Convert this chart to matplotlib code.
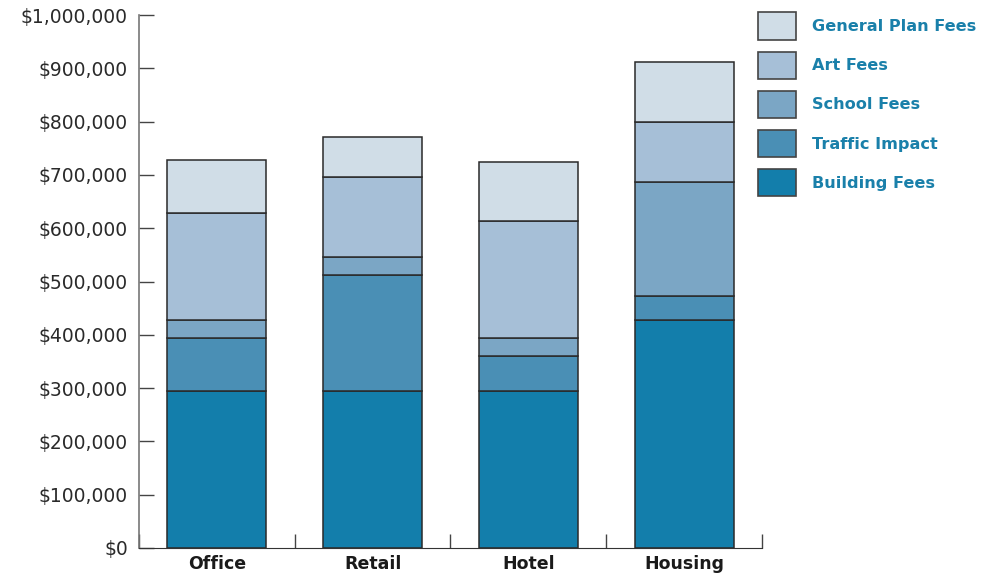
import matplotlib
matplotlib.use("Agg")
import matplotlib.pyplot as plt
from matplotlib.patches import Patch
from matplotlib.ticker import FuncFormatter
import numpy as np

categories = ["Office", "Retail", "Hotel", "Housing"]
series = ["Building Fees", "Traffic Impact", "School Fees", "Art Fees", "General Plan Fees"]
building = [295000, 295000, 295000, 428000]
traffic = [99000, 217000, 65000, 45000]
school = [34000, 34000, 34000, 214000]
art = [200000, 150000, 219000, 112000]
general = [100000, 75000, 111000, 113000]
colors = ["#137eab", "#4a8fb5", "#7ba6c5", "#a6bfd7", "#d0dde7"]

values = [building, traffic, school, art, general]

fig = plt.figure(figsize=(9.91, 5.76), dpi=100)
ax = fig.add_axes([139 / 991, 28 / 576, 623 / 991, 533 / 576])

x = np.arange(len(categories))
bottom = np.zeros(len(categories))
for vals, col in zip(values, colors):
    ax.bar(x, vals, width=0.635, bottom=bottom, color=col,
           edgecolor="#2a2a2a", linewidth=1.1)
    bottom += np.array(vals)

ax.set_xlim(-0.5, 3.5)
ax.set_ylim(0, 1000000)
ax.set_yticks(np.arange(0, 1000001, 100000))
ax.yaxis.set_major_formatter(FuncFormatter(lambda v, p: "${:,.0f}".format(v)))
ax.tick_params(axis="y", direction="in", length=11, width=1, color="#444444",
               labelsize=13.5, labelcolor="#2a2a2a", pad=8)

ax.set_xticks(x)
ax.set_xticklabels(categories, fontweight="bold", fontsize=12.5, color="#1a1a1a")
ax.set_xticks(np.arange(-0.5, 3.6, 1), minor=True)
ax.tick_params(axis="x", which="major", length=0, pad=5)
ax.tick_params(axis="x", which="minor", direction="in", length=10, width=1, color="#444444")

for s in ["top", "right"]:
    ax.spines[s].set_visible(False)
ax.spines["left"].set_color("#777777")
ax.spines["bottom"].set_color("#333333")
ax.spines["left"].set_linewidth(1.2)

handles = [Patch(facecolor=c, edgecolor="#444444", linewidth=1.2) for c in colors]
leg = fig.legend(handles[::-1], series[::-1], loc="upper left",
                 bbox_to_anchor=(752 / 991, 1 - 6 / 576), frameon=False,
                 prop={"weight": "bold", "size": 11.6}, labelcolor="#1a80aa",
                 handlelength=2.3, handleheight=2.25, labelspacing=0.72,
                 handletextpad=1.0, borderaxespad=0)

fig.savefig("out.png", dpi=100)
